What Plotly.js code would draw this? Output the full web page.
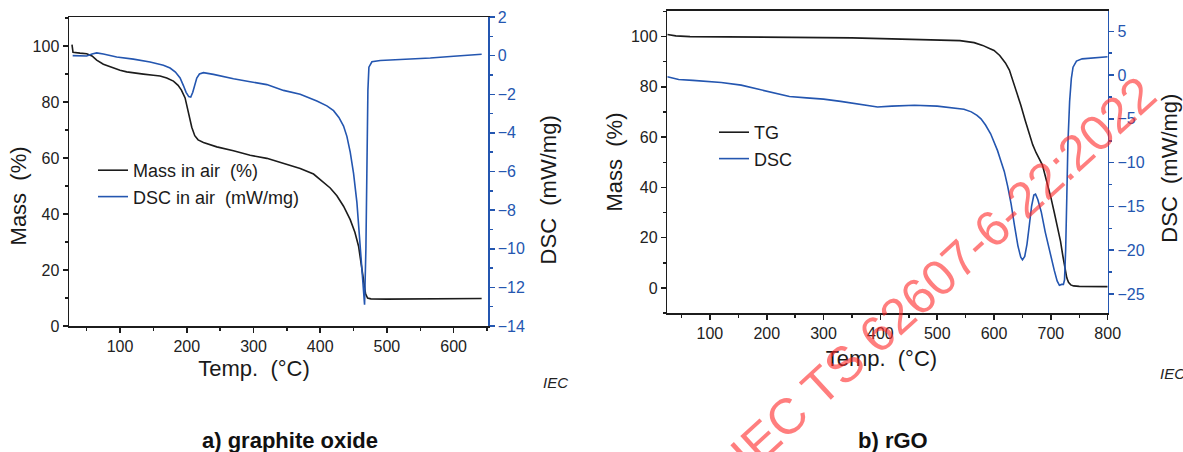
<!DOCTYPE html>
<html>
<head>
<meta charset="utf-8">
<script src="https://cdn.plot.ly/plotly-3.0.1.min.js"></script>
<style>html,body{margin:0;padding:0;background:#fff;}#chart{width:1183px;height:452px;}</style>
</head>
<body>
<div id="chart"></div>
<script>
// ---- a) graphite oxide : mass in air (%) ----
const goMassT = [28, 29.5, 40, 50, 58, 65, 75, 85, 100, 110, 125, 135, 150, 160, 170, 180, 187, 192, 197.5, 202.5, 207.5, 212, 217, 225, 245, 270, 295, 320, 345, 370, 390, 405, 415, 425, 435, 445, 452, 457.5, 462, 465, 468, 471, 476, 500, 550, 600, 642];
const goMass  = [100.5, 97.8, 97.5, 97.3, 96.5, 95, 93.5, 92.6, 91.4, 90.8, 90.2, 90, 89.6, 89.3, 88.6, 87.5, 86, 84.3, 81.5, 76.5, 71, 68, 66.5, 65.6, 64, 62.6, 61, 59.9, 58.1, 56.3, 54.3, 51.5, 49.3, 46.5, 42.8, 38, 33.5, 28.5, 21, 15, 11.5, 10, 9.7, 9.6, 9.6, 9.7, 9.8];

// ---- a) graphite oxide : DSC in air (mW/mg) ----
const goDscT = [29, 40, 50, 58, 65, 75, 95, 120, 145, 165, 175, 183, 190, 195, 199, 203, 206, 209, 212, 215, 219, 225, 240, 270, 295, 320, 345, 370, 395, 410, 420, 428, 435, 440, 445, 450, 455, 460, 464, 466.5, 468.5, 470, 471.5, 473, 477.5, 490, 545, 565, 600, 642];
const goDsc  = [0.0, -0.03, -0.02, 0.08, 0.14, 0.08, -0.07, -0.18, -0.33, -0.5, -0.64, -0.85, -1.16, -1.55, -1.9, -2.12, -2.15, -1.9, -1.5, -1.16, -0.95, -0.88, -0.97, -1.2, -1.35, -1.5, -1.8, -2.0, -2.35, -2.6, -2.85, -3.2, -3.65, -4.18, -5.0, -6.1, -7.6, -9.8, -12.0, -12.9, -10, -5.5, -1.8, -0.6, -0.32, -0.25, -0.16, -0.12, -0.03, 0.07];

// ---- b) rGO : TG (%) ----
const rgoTgT = [25, 40, 65, 150, 250, 350, 420, 500, 540, 565, 580, 592, 600, 610, 620, 627, 635, 642, 647, 655, 662, 668, 674, 680, 685, 689, 694, 700, 706, 712, 717, 721, 725, 728, 731, 735, 740, 750, 800];
const rgoTg  = [100.8, 100.3, 100, 99.9, 99.8, 99.5, 99.1, 98.8, 98.4, 97.6, 96.5, 95.3, 94.5, 92.5, 89.5, 86.7, 81.5, 76.5, 72.8, 66.5, 61.2, 57, 53.8, 51.3, 49, 45.5, 41.5, 36, 30, 24.3, 18.5, 12.8, 7, 4, 2.2, 1.2, 0.8, 0.6, 0.5];

// ---- b) rGO : DSC (mW/mg) ----
const rgoDscT = [25, 45, 70, 100, 120, 155, 200, 240, 270, 300, 330, 360, 395, 420, 460, 500, 520, 547, 560, 570, 577, 585, 594, 600, 606, 612, 618, 624, 630, 636, 642, 647, 650, 654, 658, 662, 666, 670, 673, 677, 683, 690, 700, 706, 711, 715, 719, 722, 724, 726, 728, 730, 733, 736, 739, 745, 755, 770, 800];
const rgoDsc  = [-0.2, -0.5, -0.6, -0.7, -0.85, -1.15, -1.8, -2.45, -2.6, -2.75, -3.0, -3.3, -3.65, -3.55, -3.45, -3.55, -3.7, -3.9, -4.2, -4.6, -5.0, -5.7, -6.7, -7.6, -8.6, -9.8, -11.0, -12.7, -14.7, -17.2, -19.5, -20.8, -21.1, -20.7, -19.3, -17.2, -15, -13.7, -13.6, -14.2, -15.6, -17.9, -20.8, -22.3, -23.5, -24.0, -23.9, -23.9, -23.4, -20, -14, -7.8, -3.0, -0.4, 0.9, 1.6, 1.85, 1.95, 2.1];

// ---- labels ----
const legendA = ['Mass in air\u00a0 (%)', 'DSC in air\u00a0 (mW/mg)'];
const legendB = ['TG', 'DSC'];
const captions = ['a) graphite oxide', 'b) rGO'];
const watermark = 'IEC TS 62607-6-22:2022';

const FONT = 'Liberation Sans, Arial, Helvetica, sans-serif';
const BLACK = '#1c1c1c';
const BLUE = '#2456b0';
const W = 1183, H = 452;
const px = v => v / W;
const py = v => 1 - v / H;
// trailing no-break spaces (closed by a zero-width space so they are kept) shift a centred title
const pad = n => '\u00a0'.repeat(n) + (n ? '\u200b' : '');

const traces = [
  {x: goMassT, y: goMass, xaxis: 'x', yaxis: 'y', name: legendA[0], type: 'scatter', mode: 'lines',
   line: {color: BLACK, width: 1.6}, legend: 'legend'},
  {x: goDscT, y: goDsc, xaxis: 'x', yaxis: 'y2', name: legendA[1], type: 'scatter', mode: 'lines',
   line: {color: BLUE, width: 1.6}, legend: 'legend'},
  {x: rgoTgT, y: rgoTg, xaxis: 'x2', yaxis: 'y3', name: legendB[0], type: 'scatter', mode: 'lines',
   line: {color: BLACK, width: 1.6}, legend: 'legend2'},
  {x: rgoDscT, y: rgoDsc, xaxis: 'x2', yaxis: 'y4', name: legendB[1], type: 'scatter', mode: 'lines',
   line: {color: BLUE, width: 1.6}, legend: 'legend2'}
];

function axisBase(color) {
  return {
    showline: true, linecolor: color, linewidth: 1.5,
    ticks: 'outside', ticklen: 5, tickwidth: 1.5, tickcolor: color,
    tickfont: {family: FONT, size: 16, color: color === BLUE ? BLUE : '#222'},
    showgrid: false, zeroline: false, automargin: false
  };
}
function minor(d, color) {
  return {ticks: 'outside', dtick: d, ticklen: 3, tickwidth: 1.5, tickcolor: color, showgrid: false};
}
const titleFont = {family: FONT, size: 22, color: '#1a1a1a'};

const layout = {
  width: W, height: H,
  margin: {l: 0, r: 0, t: 0, b: 0},
  paper_bgcolor: '#ffffff', plot_bgcolor: '#ffffff',
  font: {family: FONT, color: '#1a1a1a'},
  showlegend: true,
  xaxis: Object.assign(axisBase(BLACK), {
    domain: [px(69), px(488)], range: [23.5, 651.5], anchor: 'y', mirror: true,
    tick0: 0, dtick: 100, minor: minor(50, BLACK),
    title: {text: 'Temp.\u00a0 (°C)' + pad(8), font: titleFont, standoff: 7}
  }),
  yaxis: Object.assign(axisBase(BLACK), {
    domain: [py(326), py(17)], range: [0, 110.4], anchor: 'x', side: 'left',
    tick0: 0, dtick: 20, minor: minor(10, BLACK),
    title: {text: 'Mass\u00a0 (%)' + pad(8), font: titleFont, standoff: 0}
  }),
  yaxis2: Object.assign(axisBase(BLUE), {
    range: [-14, 2], anchor: 'x', overlaying: 'y', side: 'right',
    tick0: 0, dtick: 2, minor: minor(1, BLUE),
    title: {text: 'DSC\u00a0 (mW/mg)' + pad(6), font: titleFont, standoff: 16}
  }),
  xaxis2: Object.assign(axisBase(BLACK), {
    domain: [px(667.3), px(1107.7)], range: [25, 800], anchor: 'y3', mirror: true,
    tick0: 0, dtick: 100, minor: minor(50, BLACK),
    title: {text: 'Temp.\u00a0 (°C)' + pad(2), font: titleFont, standoff: 9}
  }),
  yaxis3: Object.assign(axisBase(BLACK), {
    domain: [py(313.3), py(10.7)], range: [-10.1, 110.3], anchor: 'x2', side: 'left',
    tick0: 0, dtick: 20, minor: minor(10, BLACK),
    title: {text: 'Mass\u00a0 (%)', font: titleFont, standoff: 2}
  }),
  yaxis4: Object.assign(axisBase(BLUE), {
    range: [-27.2, 7.35], anchor: 'x2', overlaying: 'y3', side: 'right',
    tick0: 0, dtick: 5, minor: minor(2.5, BLUE),
    title: {text: 'DSC\u00a0 (mW/mg)' + pad(2), font: titleFont, standoff: 18}
  }),
  legend: {
    x: px(93), y: py(152), xanchor: 'left', yanchor: 'top',
    bgcolor: 'rgba(0,0,0,0)', borderwidth: 0,
    font: {family: FONT, size: 18, color: '#1a1a1a'}, tracegroupgap: 0
  },
  legend2: {
    x: px(714), y: py(114), xanchor: 'left', yanchor: 'top',
    bgcolor: 'rgba(0,0,0,0)', borderwidth: 0,
    font: {family: FONT, size: 18, color: '#1a1a1a'}, tracegroupgap: 0
  },
  annotations: [
    {text: '<b>' + captions[0] + '</b>', xref: 'paper', yref: 'paper', x: px(290), y: py(440),
     xanchor: 'center', yanchor: 'middle', showarrow: false, font: {family: FONT, size: 22, color: '#111'}},
    {text: '<b>' + captions[1] + '</b>', xref: 'paper', yref: 'paper', x: px(893), y: py(440),
     xanchor: 'center', yanchor: 'middle', showarrow: false, font: {family: FONT, size: 22, color: '#111'}},
    {text: '<i>IEC</i>', xref: 'paper', yref: 'paper', x: px(555), y: py(382),
     xanchor: 'center', yanchor: 'middle', showarrow: false, font: {family: FONT, size: 15, color: '#222'}},
    {text: '<i>IEC</i>', xref: 'paper', yref: 'paper', x: px(1158), y: py(373),
     xanchor: 'left', yanchor: 'middle', showarrow: false, font: {family: FONT, size: 15, color: '#222'}},
    {text: watermark, xref: 'paper', yref: 'paper', x: px(943), y: py(274),
     xanchor: 'center', yanchor: 'middle', showarrow: false, textangle: -42.5,
     font: {family: FONT, size: 50, color: 'rgba(255,40,40,0.6)'}}
  ]
};

Plotly.newPlot('chart', traces, layout, {staticPlot: true, displayModeBar: false});
</script>
</body>
</html>
